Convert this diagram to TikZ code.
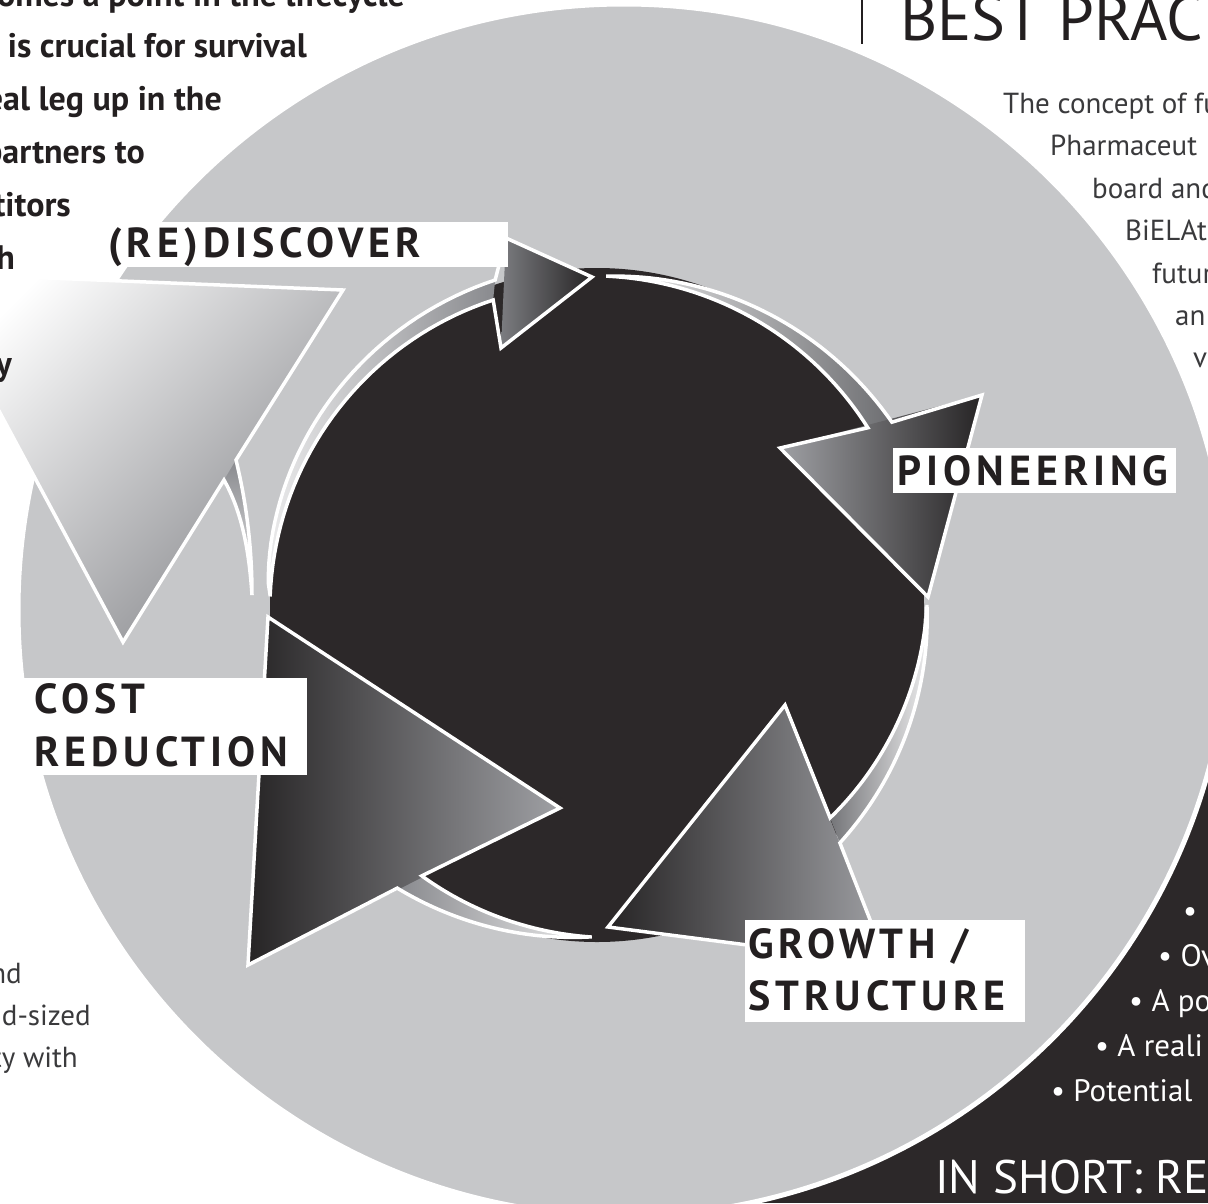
\documentclass[tikz,border=0pt]{standalone}
\usepackage{fontspec}
\setmainfont{PT Sans}
\newfontfamily\labelfont[LetterSpace=12]{PT Sans}

\definecolor{ringgray}{HTML}{C6C7C9}
\definecolor{coal}{HTML}{2C2829}
\definecolor{ink}{HTML}{231F20}
\definecolor{softink}{HTML}{3A3A3C}
\definecolor{tailpale}{HTML}{EAEAEB}
\definecolor{tailgray}{HTML}{898A8E}
\definecolor{headgray}{HTML}{9FA0A4}
\definecolor{headdark}{HTML}{262425}

% one edge of a tail over angles #1..#2; it starts at angle #3 with radius #4
% and reaches radius #6 at angle #5, growing with power #7
\newcommand{\tailedge}[7]{-- plot[domain=#1:#2] ({597+(#4+(#6-#4)*pow(abs((\x-#3)/(#5-#3))+0.0001,#7))*cos(\x)},{605+(#4+(#6-#4)*pow(abs((\x-#3)/(#5-#3))+0.0001,#7))*sin(\x)})}

\tikzset{
  rim/.style={draw=white, line width=3.5, line join=miter},
  cyclelabel/.style={font=\labelfont\bfseries\fontsize{42}{42}\selectfont, text=ink, inner sep=0, anchor=base west},
  introtext/.style={font=\bfseries\fontsize{34}{34}\selectfont, text=ink, inner sep=0, anchor=base east},
  sidetext/.style={font=\fontsize{29}{29}\selectfont, text=softink, inner sep=0, anchor=base west},
  sidetextend/.style={sidetext, anchor=base east},
  bullettext/.style={font=\fontsize{31}{31}\selectfont, text=white, inner sep=0, anchor=base west}
}

\begin{document}
\begin{tikzpicture}[x=1pt, y=-1pt, samples=40]
    \useasboundingbox (0,0) rectangle (1208,1203);
    \clip (0,0) rectangle (1208,1203);

    % panel, disc and core
    \fill[coal] (700,700) rectangle (1208,1203);
    \fill[ringgray, draw=white, line width=5] (624,610) circle [radius=606];
    \fill[coal] (597,605) ellipse [x radius=327, y radius=337];

    % pale arrow on the left
    \shade[top color=white, bottom color=tailgray, shading angle=45]
    (-75,273) -- (343,290) -- (123,642) -- cycle;
    \shade[top color=tailgray, bottom color=tailpale]
    (236,460) .. controls (247,505) and (252,550) .. (252,595)
    .. controls (249,548) and (241,510) .. (224,480) -- cycle;
    \draw[rim]
    (-75,273) -- (343,290) -- (236,460) .. controls (247,505) and (252,550) .. (252,595)
    .. controls (249,548) and (241,510) .. (224,480) -- (123,642) -- cycle;

    % (re)discover
    \shade[left color=tailpale, right color=tailgray]
    ([shift={(597,605)}]181.8:327) \tailedge{181.8}{252.6}{181.8}{327}{252.6}{340.6}{0.5}
    \tailedge{251.2}{181.8}{181.8}{327}{251.2}{322.2}{1} -- cycle;
    \shade[left color=tailgray!90!black, right color=headdark]
    (506,238) -- (592,277) -- (501,348) -- cycle;
    \draw[rim]
    ([shift={(597,605)}]181.8:327) \tailedge{181.8}{252.6}{181.8}{327}{252.6}{340.6}{0.5}
    -- (506,238) -- (592,277) -- (501,348)
    \tailedge{251.2}{181.8}{181.8}{327}{251.2}{322.2}{1} -- cycle;

    % pioneering
    \shade[left color=tailpale, right color=tailgray!80!black]
    ([shift={(597,605)}]271.9:329) \tailedge{271.9}{328.2}{271.9}{329}{328.2}{347}{1}
    \tailedge{326.8}{271.9}{271.9}{329}{326.8}{323.7}{1} -- cycle;
    \shade[left color=headgray, right color=headdark]
    (982,395) -- (928,597) -- (780,448) -- cycle;
    \draw[rim]
    ([shift={(597,605)}]271.9:329) \tailedge{271.9}{328.2}{271.9}{329}{328.2}{347}{1}
    -- (982,395) -- (928,597) -- (780,448)
    \tailedge{326.8}{271.9}{271.9}{329}{326.8}{323.7}{1} -- cycle;

    % growth / structure
    \shade[left color=tailgray!85!black, right color=tailpale]
    ([shift={(597,605)}]0.3:330) \tailedge{0.3}{44.4}{0.3}{330}{44.4}{340}{1}
    \tailedge{42.4}{0.3}{0.3}{330}{42.4}{315.7}{1} -- cycle;
    \shade[left color=headdark, middle color=headdark!60!headgray, right color=headgray]
    (887,963) -- (608,927) -- (785,705) -- cycle;
    \draw[rim]
    ([shift={(597,605)}]0.3:330) \tailedge{0.3}{44.4}{0.3}{330}{44.4}{340}{1}
    -- (887,963) -- (608,927) -- (785,705)
    \tailedge{42.4}{0.3}{0.3}{330}{42.4}{315.7}{1} -- cycle;

    % cost reduction
    \shade[left color=tailgray, right color=tailpale]
    ([shift={(597,605)}]91.2:332) \tailedge{91.2}{125.2}{91.2}{332}{125.2}{346.5}{1}
    \tailedge{122.9}{91.2}{91.2}{332}{122.9}{322.6}{1} -- cycle;
    \shade[left color=headdark, middle color=headdark!75!headgray, right color=headgray]
    (248,965) -- (268,617) -- (560,808) -- cycle;
    \draw[rim]
    ([shift={(597,605)}]91.2:332) \tailedge{91.2}{125.2}{91.2}{332}{125.2}{346.5}{1}
    -- (248,965) -- (268,617) -- (560,808)
    \tailedge{122.9}{91.2}{91.2}{332}{122.9}{322.6}{1} -- cycle;

    % label boxes
    \fill[white] (100,222) rectangle (508,267);
    \fill[white] (893,448) rectangle (1176,493);
    \fill[white] (22,678) rectangle (307,775);
    \fill[white] (745,920) rectangle (1025,1022);

    \node[cyclelabel] (discover) at (108,257) {(RE)DISCOVER};
    \node[cyclelabel] (pioneer) at (897,485) {PIONEERING};
    \node[cyclelabel] (costa) at (34,713) {COST};
    \node[cyclelabel] (costb) at (34,766) {REDUCTION};
    \node[cyclelabel] (growtha) at (748,958) {GROWTH /};
    \node[cyclelabel] (growthb) at (748,1010) {STRUCTURE};

    % running text, cut by the page edge
    \node[introtext] (introa) at (405,6) {comes a point in the lifecycle};
    \node[introtext] (introb) at (307,57) {is crucial for survival};
    \node[introtext] (introc) at (222,110) {eal leg up in the};
    \node[introtext] (introd) at (145,163) {partners to};
    \node[introtext] (introe) at (71,216) {titors};
    \node[introtext] (introf) at (15,269) {h};
    \node[introtext] (introg) at (12,375) {y};

    \node[sidetext] (concepta) at (1003,113) {The concept of fu};
    \node[sidetext] (conceptb) at (1050,155) {Pharmaceut};
    \node[sidetext] (conceptc) at (1092,198) {board and};
    \node[sidetext] (conceptd) at (1125,240) {BiELAt};
    \node[sidetext] (concepte) at (1152,283) {futur};
    \node[sidetext] (conceptf) at (1175,325) {an};
    \node[sidetext] (conceptg) at (1193,367) {va};

    \node[sidetextend] (sizeda) at (22,983) {nd};
    \node[sidetextend] (sizedb) at (91,1025) {d-sized};
    \node[sidetextend] (sizedc) at (78,1067) {ty with};

    \node[bullettext] (pointa) at (1183,921) {•};
    \node[bullettext] (pointb) at (1158,966) {• Ov};
    \node[bullettext] (pointc) at (1129,1011) {• A po};
    \node[bullettext] (pointd) at (1095,1056) {• A reali};
    \node[bullettext] (pointe) at (1051,1101) {• Potential};

    \node[font=\fontsize{47}{47}\selectfont, text=white, inner sep=0, anchor=base west]
    (short) at (935,1193) {IN SHORT: RE};
    \node[font=\fontsize{64}{64}\selectfont, text=ink, inner sep=0, anchor=base west]
    (best) at (900,40) {BEST PRAC};
    \draw[ink, line width=2] (862,0) -- (862,44);

  \end{tikzpicture}
\end{document}
